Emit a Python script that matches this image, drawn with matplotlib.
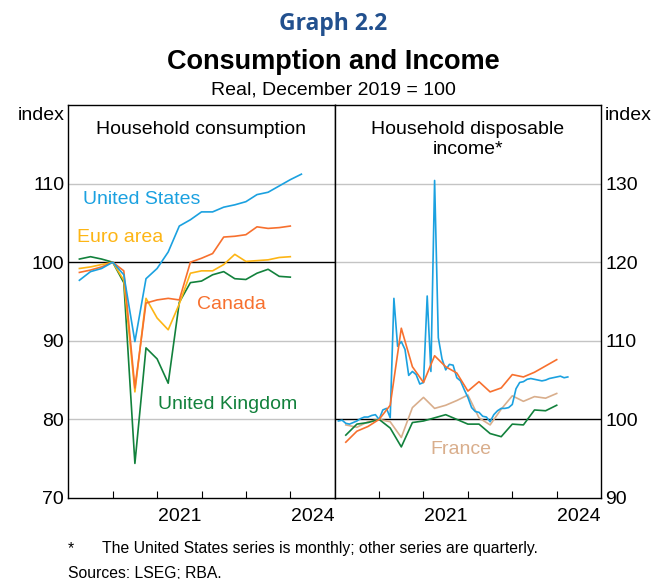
import numpy as np
import matplotlib.pyplot as plt

plt.rcParams['font.family'] = ['Liberation Sans', 'DejaVu Sans']

# quarterly series, end of quarter, starting Q1 2019
cons_us = [97.7, 98.8, 99.2, 100.0, 98.4, 89.9, 97.9, 99.2, 101.3, 104.6, 105.4,
           106.4, 106.4, 107.0, 107.3, 107.7, 108.6, 108.9, 109.7, 110.5, 111.2]
cons_ca = [98.7, 99.0, 99.4, 100.0, 98.9, 84.0, 94.8, 95.2, 95.4, 95.2, 100.0,
           100.5, 101.1, 103.2, 103.3, 103.5, 104.5, 104.3, 104.4, 104.6]
cons_ea = [99.2, 99.4, 99.7, 100.0, 97.7, 83.5, 95.4, 92.9, 91.4, 94.7, 98.6,
           98.9, 98.9, 99.7, 101.0, 100.1, 100.2, 100.3, 100.6, 100.7]
cons_uk = [100.4, 100.7, 100.4, 100.0, 97.4, 74.4, 89.1, 87.7, 84.6, 94.9, 97.4,
           97.6, 98.4, 98.8, 97.9, 97.8, 98.6, 99.1, 98.2, 98.1]

inc_ca = [97.1, 98.5, 99.1, 100.0, 101.8, 111.6, 106.7, 104.7, 108.1, 106.7, 105.9,
          103.6, 104.8, 103.5, 104.0, 105.7, 105.4, 106.0, 106.8, 107.6]
inc_fr = [99.3, 99.0, 99.7, 100.0, 99.7, 97.7, 101.5, 102.8, 101.4, 101.8, 102.4,
          103.1, 100.2, 99.3, 101.3, 103.0, 102.3, 102.9, 102.7, 103.3]
inc_uk = [98.0, 99.4, 99.6, 100.0, 98.9, 96.5, 99.6, 99.8, 100.2, 100.6, 100.0,
          99.4, 99.4, 98.2, 97.8, 99.4, 99.3, 101.2, 101.1, 101.8]
# monthly, Jan 2019 to Mar 2024
inc_us = [99.8, 99.9, 99.5, 99.4, 99.6, 99.8, 100.1, 100.3, 100.3, 100.5, 100.6, 100.0,
          101.2, 101.4, 100.2, 115.4, 109.3, 109.9, 108.9, 105.6, 106.1, 105.7, 104.5, 104.7,
          115.7, 106.1, 130.4, 110.4, 107.7, 106.3, 107.0, 106.9, 105.3, 104.9, 103.8, 102.8,
          101.5, 101.0, 100.9, 100.4, 100.3, 99.7, 100.6, 101.1, 101.4, 101.4, 101.5, 101.9,
          103.9, 104.7, 104.8, 105.1, 105.2, 105.1, 105.0, 104.9, 105.0, 105.2, 105.3, 105.4,
          105.5, 105.3, 105.4]

c_us = '#1ba1e0'
c_ca = '#f7702e'
c_ea = '#fdb515'
c_uk = '#12813c'
c_fr = '#d9ae8c'


def qx(s):
    return 2019 + np.arange(1, len(s) + 1) / 4


def mx(s):
    return 2019 + np.arange(1, len(s) + 1) / 12


fig = plt.figure(figsize=(6.66, 5.79), dpi=100)
W, H = 666, 579
ax1 = fig.add_axes([68.3 / W, 1 - 498 / H, 266.4 / W, 393 / H])
ax2 = fig.add_axes([334.7 / W, 1 - 498 / H, 266.4 / W, 393 / H])

lw = 1.2
ax1.plot(qx(cons_uk), cons_uk, color=c_uk, lw=lw)
ax1.plot(qx(cons_ea), cons_ea, color=c_ea, lw=lw)
ax1.plot(qx(cons_ca), cons_ca, color=c_ca, lw=lw)
ax1.plot(qx(cons_us), cons_us, color=c_us, lw=lw)

ax2.plot(qx(inc_fr), inc_fr, color=c_fr, lw=lw)
ax2.plot(qx(inc_uk), inc_uk, color=c_uk, lw=lw)
ax2.plot(mx(inc_us), inc_us, color=c_us, lw=lw)
ax2.plot(qx(inc_ca), inc_ca, color=c_ca, lw=lw)

for ax, lo, base in [(ax1, 70, 100), (ax2, 90, 100)]:
    ax.set_xlim(2019, 2025)
    ax.set_ylim(lo, lo + 50)
    ticks = np.arange(lo, lo + 50, 10)
    ax.set_yticks(ticks)
    for t in ticks:
        if t == base:
            ax.axhline(t, color='black', lw=1.0, zorder=1)
        elif t != lo:
            ax.axhline(t, color='#c4c4c4', lw=1.0, zorder=0)
    ax.set_xticks([2020, 2021, 2022, 2023, 2024])
    ax.set_xticklabels([])
    ax.set_xticks([2021.5, 2024.5], minor=True)
    ax.set_xticklabels(['2021', '2024'], minor=True)
    ax.tick_params(axis='x', which='major', direction='in', length=5, width=0.8)
    ax.tick_params(axis='x', which='minor', length=0, pad=7, labelsize=14)
    ax.tick_params(axis='y', length=0, pad=3, labelsize=14)
    for sp in ax.spines.values():
        sp.set_linewidth(1.0)

ax2.yaxis.tick_right()

ax1.text(0.5, 0.96, 'Household consumption', transform=ax1.transAxes,
         ha='center', va='top', fontsize=14)
ax2.text(0.5, 0.96, 'Household disposable\nincome*', transform=ax2.transAxes,
         ha='center', va='top', fontsize=14, linespacing=1.25)

fs = 14
ax1.text(2019.33, 108.0, 'United States', color=c_us, fontsize=fs, va='center')
ax1.text(2019.2, 103.2, 'Euro area', color=c_ea, fontsize=fs, va='center')
ax1.text(2021.9, 94.6, 'Canada', color=c_ca, fontsize=fs, va='center')
ax1.text(2021.02, 81.9, 'United Kingdom', color=c_uk, fontsize=fs, va='center')
ax2.text(2021.15, 96.2, 'France', color=c_fr, fontsize=fs, va='center')

fig.text(18 / W, 1 - 115 / H, 'index', fontsize=14, va='center', ha='left')
fig.text(605 / W, 1 - 115 / H, 'index', fontsize=14, va='center', ha='left')

fig.text(0.5, 1 - 24 / H, 'Graph 2.2', fontsize=16.5, fontweight='bold',
         color='#22508e', ha='center', va='center', family=['Open Sans', 'DejaVu Sans'])
fig.text(0.5, 1 - 62 / H, 'Consumption and Income', fontsize=19.5, fontweight='bold',
         ha='center', va='center')
fig.text(0.5, 1 - 90 / H, 'Real, December 2019 = 100', fontsize=14,
         ha='center', va='center')

fig.text(68 / W, 1 - 549 / H, '*', fontsize=11.3, va='center')
fig.text(102 / W, 1 - 549 / H, 'The United States series is monthly; other series are quarterly.',
         fontsize=11.3, va='center')
fig.text(68 / W, 1 - 573 / H, 'Sources: LSEG; RBA.', fontsize=11.3, va='center')

fig.savefig('out.png', dpi=100)
